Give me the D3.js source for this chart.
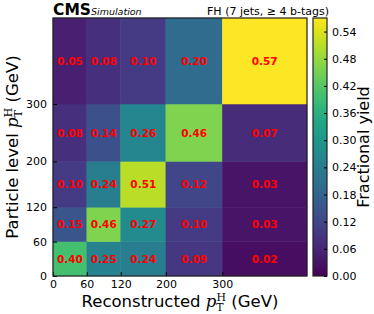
<!DOCTYPE html>
<html>
<head>
<meta charset="utf-8">
<script src="https://cdn.jsdelivr.net/npm/d3@7"></script>
<style>
  body { margin: 0; background: #fff; }
  text { font-family: "DejaVu Sans", sans-serif; }
</style>
</head>
<body>
<svg id="chart" width="374" height="314"></svg>
<script>
// bin edges in GeV (last bin is the overflow, drawn up to 450)
const binEdges = [0, 60, 120, 200, 300, 450];
const tickValues = [0, 60, 120, 200, 300];
// rows = particle level bins (bottom -> top), columns = reconstructed bins
const row0 = [0.40, 0.25, 0.24, 0.09, 0.02];
const row1 = [0.15, 0.46, 0.27, 0.10, 0.03];
const row2 = [0.10, 0.24, 0.51, 0.12, 0.03];
const row3 = [0.08, 0.14, 0.26, 0.46, 0.07];
const row4 = [0.05, 0.08, 0.10, 0.20, 0.57];
const rows = [row0, row1, row2, row3, row4];
const cbarTicks = [0.00, 0.06, 0.12, 0.18, 0.24, 0.30, 0.36, 0.42, 0.48, 0.54];

const svg = d3.select("#chart");
const pLeft = 53, pRight = 307, pTop = 18, pBottom = 276;

const x = d3.scaleLinear().domain([0, 450]).range([pLeft, pRight]);
const y = d3.scaleLinear().domain([0, 450]).range([pBottom, pTop]);
const color = d3.scaleSequential(d3.interpolateViridis).domain([0, 0.57]);

// cells
const cells = [];
rows.forEach((r, i) => r.forEach((v, j) => cells.push({ i, j, v })));

svg.append("g").selectAll("rect")
  .data(cells)
  .enter()
  .append("rect")
  .attr("x", d => x(binEdges[d.j]))
  .attr("y", d => y(binEdges[d.i + 1]))
  .attr("width", d => x(binEdges[d.j + 1]) - x(binEdges[d.j]))
  .attr("height", d => y(binEdges[d.i]) - y(binEdges[d.i + 1]))
  .attr("fill", d => color(d.v))
  .attr("stroke", d => color(d.v))
  .attr("stroke-width", 0.5);

svg.append("g").selectAll("text")
  .data(cells)
  .enter()
  .append("text")
  .attr("x", d => (x(binEdges[d.j]) + x(binEdges[d.j + 1])) / 2)
  .attr("y", d => (y(binEdges[d.i]) + y(binEdges[d.i + 1])) / 2 + 4)
  .attr("text-anchor", "middle")
  .attr("font-size", 10.5)
  .attr("font-weight", "bold")
  .attr("fill", "#ff0000")
  .text(d => d.v.toFixed(2));

// axes (ticks point inward)
const xAxis = svg.append("g")
  .attr("transform", "translate(0," + pBottom + ")")
  .call(d3.axisBottom(x).tickValues(tickValues).tickSizeInner(-4).tickSizeOuter(0).tickPadding(4));
const yAxis = svg.append("g")
  .attr("transform", "translate(" + pLeft + ",0)")
  .call(d3.axisLeft(y).tickValues(tickValues).tickSizeInner(-4).tickSizeOuter(0).tickPadding(6));
[xAxis, yAxis].forEach(a => {
  a.select(".domain").remove();
  a.selectAll("text").attr("font-size", 11).attr("fill", "#000").attr("font-family", "DejaVu Sans");
  a.selectAll("line").attr("stroke", "#000");
});

svg.append("rect")
  .attr("x", pLeft).attr("y", pTop)
  .attr("width", pRight - pLeft).attr("height", pBottom - pTop)
  .attr("fill", "none").attr("stroke", "#222").attr("stroke-width", 1.2);

// colorbar
const cbL = 313, cbW = 14;
const cy = d3.scaleLinear().domain([0, 0.57]).range([pBottom, pTop]);
const defs = svg.append("defs");
const grad = defs.append("linearGradient").attr("id", "vir")
  .attr("x1", 0).attr("y1", 1).attr("x2", 0).attr("y2", 0);
d3.range(0, 1.0001, 0.05).forEach(t => {
  grad.append("stop").attr("offset", t).attr("stop-color", d3.interpolateViridis(t));
});
svg.append("rect")
  .attr("x", cbL).attr("y", pTop).attr("width", cbW).attr("height", pBottom - pTop)
  .attr("fill", "url(#vir)").attr("stroke", "#222").attr("stroke-width", 1.2);
const cAxis = svg.append("g")
  .attr("transform", "translate(" + (cbL + cbW) + ",0)")
  .call(d3.axisRight(cy).tickValues(cbarTicks).tickFormat(d3.format(".2f"))
    .tickSizeInner(-3).tickSizeOuter(0).tickPadding(5));
cAxis.select(".domain").remove();
cAxis.selectAll("text").attr("font-size", 11).attr("fill", "#000").attr("font-family", "DejaVu Sans");
cAxis.selectAll("line").attr("stroke", "#000");

svg.append("text")
  .attr("transform", "translate(369,147) rotate(-90)")
  .attr("text-anchor", "middle")
  .attr("font-size", 16)
  .text("Fractional yield");

// axis titles with math p_T^H
function ptLabel(sel, pre, fs) {
  sel.append("tspan").text(pre);
  sel.append("tspan").attr("font-family", "DejaVu Serif").attr("font-style", "italic").text("p");
  sel.append("tspan").attr("font-family", "DejaVu Serif").attr("font-size", fs * 0.66).attr("dy", 4).text("T");
  sel.append("tspan").attr("font-family", "DejaVu Serif").attr("font-size", fs * 0.66).attr("dx", -7).attr("dy", -10).text("H");
  sel.append("tspan").attr("dy", 6).text(" (GeV)");
}
const xl = svg.append("text")
  .attr("x", 180).attr("y", 307)
  .attr("text-anchor", "middle")
  .attr("font-size", 16.5);
ptLabel(xl, "Reconstructed ", 16.5);

const yl = svg.append("text")
  .attr("transform", "translate(18,147) rotate(-90)")
  .attr("text-anchor", "middle")
  .attr("font-size", 16.5);
ptLabel(yl, "Particle level ", 16.5);

// header
svg.append("text").attr("x", 53).attr("y", 15)
  .attr("font-size", 15.5).attr("font-weight", "bold").text("CMS");
svg.append("text").attr("x", 91).attr("y", 15)
  .attr("font-size", 9.5).attr("font-style", "italic").text("Simulation");
svg.append("text").attr("x", 329).attr("y", 15)
  .attr("text-anchor", "end")
  .attr("font-size", 11).text("FH (7 jets, \u2265 4 b-tags)");
</script>
</body>
</html>
